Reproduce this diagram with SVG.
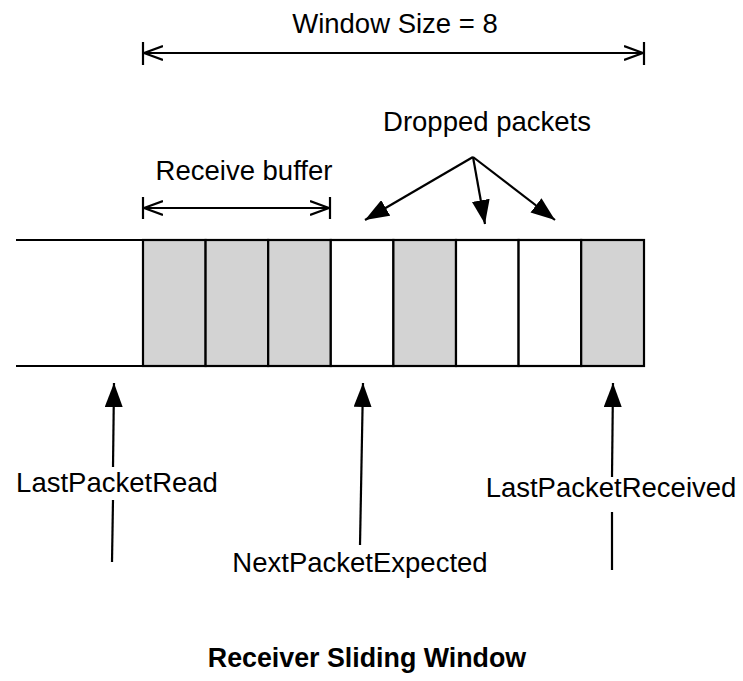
<svg xmlns="http://www.w3.org/2000/svg" width="743" height="681" viewBox="0 0 743 681">
  <style>
    .lbl { font-family: "Liberation Sans", Arial, sans-serif; font-size: 27.5px; fill: #000; }
    .title { font-family: "Liberation Sans", Arial, sans-serif; font-size: 26.8px; font-weight: bold; fill: #000; }
    .ln { stroke: #000; stroke-width: 2.2; fill: none; }
    .cell { stroke: #000; stroke-width: 2.2; }
    .full { fill: #d3d3d3; }
    .empty { fill: #fff; }
  </style>
  <defs>
    <marker id="solid" viewBox="0 0 24 18" refX="24" refY="9" markerWidth="24" markerHeight="18" markerUnits="userSpaceOnUse" orient="auto">
      <path d="M0,0 L24,9 L0,18 Z" fill="#000"/>
    </marker>
    <marker id="open" viewBox="0 0 20 16" refX="19" refY="8" markerWidth="20" markerHeight="16" markerUnits="userSpaceOnUse" orient="auto-start-reverse">
      <path d="M0,1 L19,8 L0,15" fill="none" stroke="#000" stroke-width="2.2"/>
    </marker>
  </defs>

  <!-- window size dimension -->
  <g id="window-size">
    <text class="lbl" x="395" y="33" text-anchor="middle">Window Size = 8</text>
    <line class="ln" x1="143" y1="42" x2="143" y2="65"/>
    <line class="ln" x1="644" y1="42" x2="644" y2="65"/>
    <line class="ln" x1="144" y1="53" x2="643" y2="53" marker-start="url(#open)" marker-end="url(#open)"/>
  </g>

  <!-- receive buffer dimension -->
  <g id="receive-buffer">
    <text class="lbl" x="244" y="180" text-anchor="middle">Receive buffer</text>
    <line class="ln" x1="143" y1="197" x2="143" y2="219"/>
    <line class="ln" x1="330" y1="197" x2="330" y2="219"/>
    <line class="ln" x1="144" y1="208" x2="329" y2="208" marker-start="url(#open)" marker-end="url(#open)"/>
  </g>

  <!-- packet strip -->
  <g id="strip">
    <line class="ln" x1="16" y1="240" x2="143" y2="240"/>
    <line class="ln" x1="16" y1="366" x2="143" y2="366"/>
    <rect class="cell full" x="143" y="240" width="62.6" height="126"/>
    <rect class="cell full" x="205.6" y="240" width="62.6" height="126"/>
    <rect class="cell full" x="268.2" y="240" width="62.6" height="126"/>
    <rect class="cell empty" x="330.8" y="240" width="62.6" height="126"/>
    <rect class="cell full" x="393.4" y="240" width="62.6" height="126"/>
    <rect class="cell empty" x="456" y="240" width="62.6" height="126"/>
    <rect class="cell empty" x="518.6" y="240" width="62.6" height="126"/>
    <rect class="cell full" x="581.2" y="240" width="62.8" height="126"/>
  </g>

  <!-- labels -->
  <g id="dropped-packets">
    <text class="lbl" x="487" y="131" text-anchor="middle">Dropped packets</text>
  </g>
  <g id="last-packet-read">
    <text class="lbl" x="117" y="492" text-anchor="middle">LastPacketRead</text>
  </g>
  <g id="next-packet-expected">
    <text class="lbl" x="360" y="572" text-anchor="middle">NextPacketExpected</text>
  </g>
  <g id="last-packet-received">
    <text class="lbl" x="611" y="497" text-anchor="middle">LastPacketReceived</text>
  </g>
  <g id="caption">
    <text class="title" x="367" y="667" text-anchor="middle">Receiver Sliding Window</text>
  </g>

  <!-- connectors -->
  <g id="connectors">
    <line class="ln" x1="473" y1="157" x2="365" y2="220" marker-end="url(#solid)"/>
    <line class="ln" x1="473" y1="157" x2="485" y2="224" marker-end="url(#solid)"/>
    <line class="ln" x1="473" y1="157" x2="555" y2="220" marker-end="url(#solid)"/>
    <line class="ln" x1="113" y1="467" x2="114" y2="383" marker-end="url(#solid)"/>
    <line class="ln" x1="112" y1="562" x2="113" y2="500"/>
    <line class="ln" x1="360" y1="545" x2="363" y2="383" marker-end="url(#solid)"/>
    <line class="ln" x1="612" y1="477" x2="613" y2="383" marker-end="url(#solid)"/>
    <line class="ln" x1="612" y1="570" x2="612" y2="512"/>
  </g>
</svg>
